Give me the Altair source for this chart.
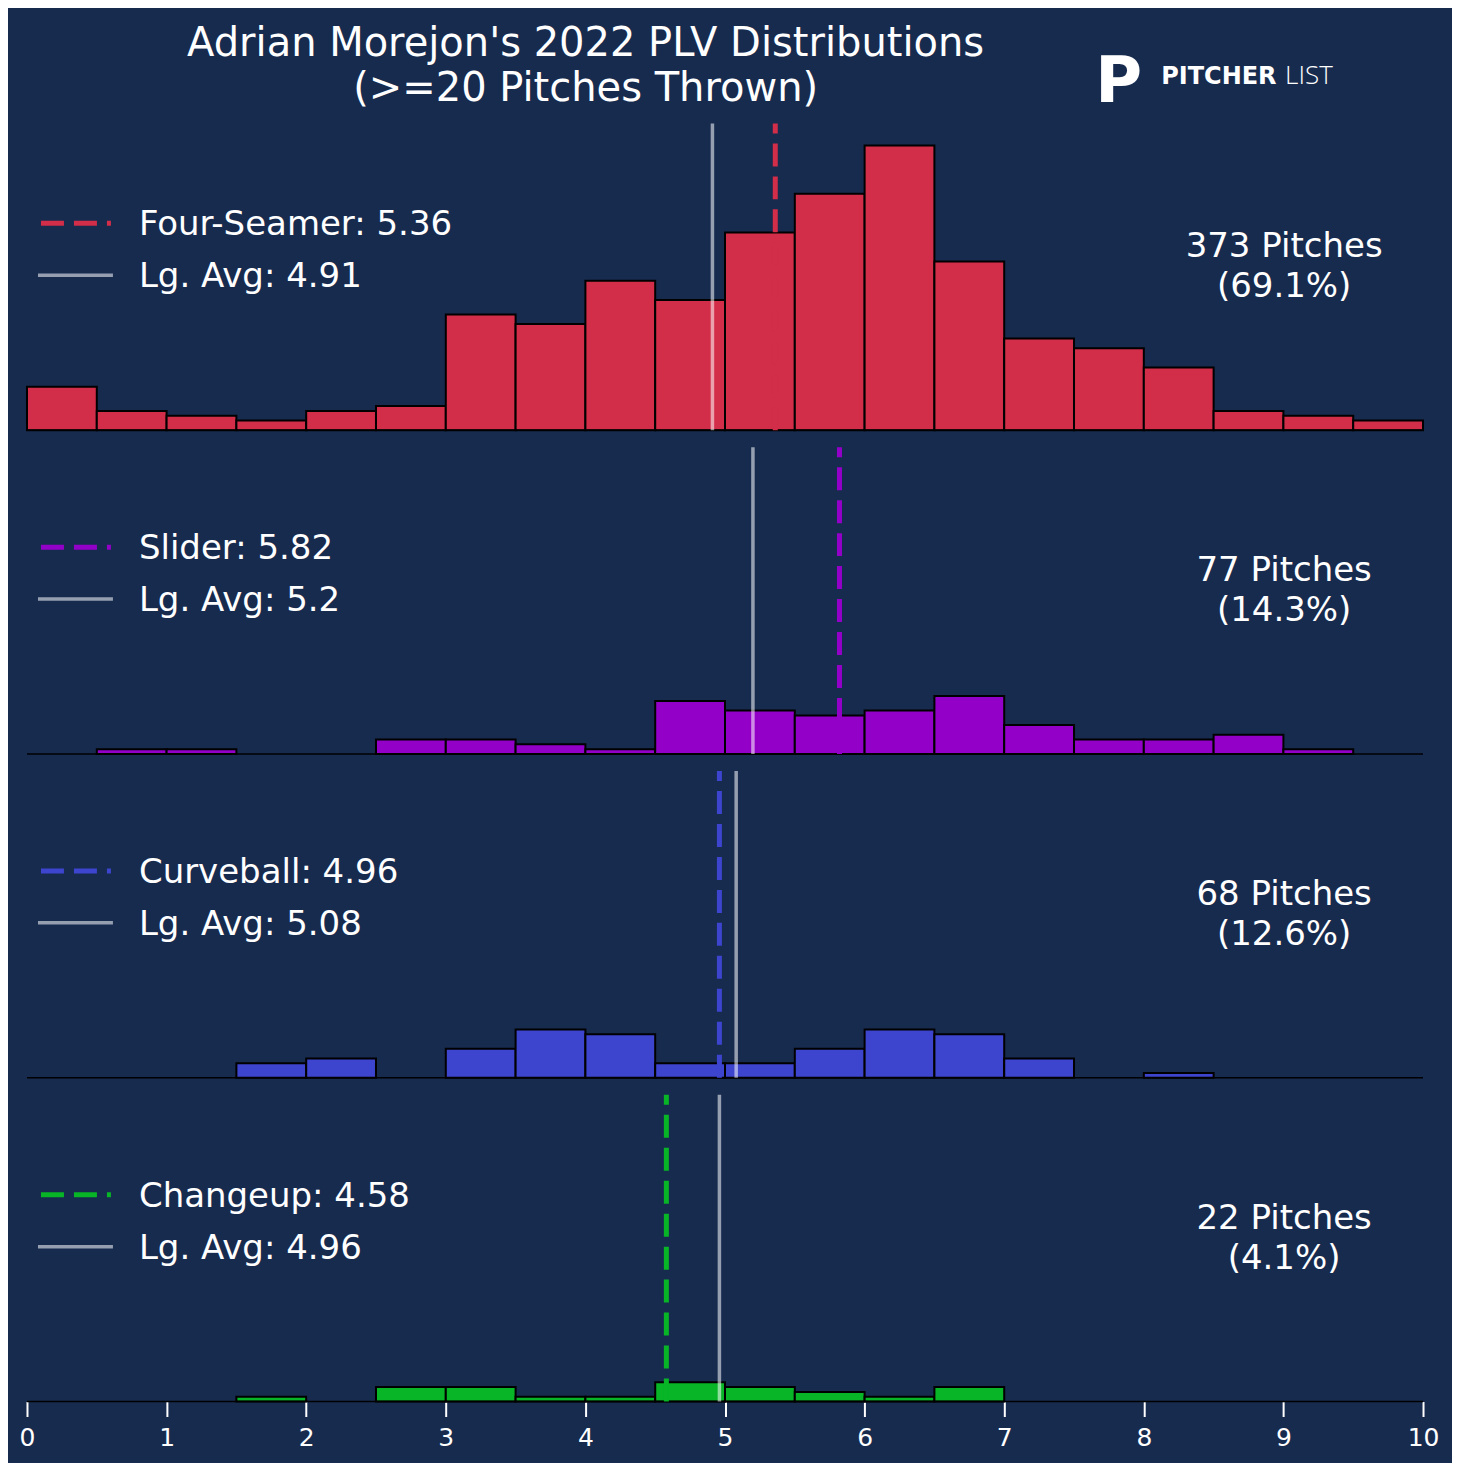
import altair as alt
import pandas as pd

BG = "#172B4F"
FONT = "DejaVu Sans"

# ---- data ----
bin_starts = [i * 0.5 for i in range(20)]
fourseam_counts = [9, 4, 3, 2, 4, 5, 24, 22, 31, 27, 41, 49, 59, 35, 19, 17, 13, 4, 3, 2]
slider_counts = [0, 1, 1, 0, 0, 3, 3, 2, 1, 11, 9, 8, 9, 12, 6, 3, 3, 4, 1, 0]
curve_counts = [0, 0, 0, 3, 4, 0, 6, 10, 9, 3, 3, 6, 10, 9, 4, 0, 1, 0, 0, 0]
change_counts = [0, 0, 0, 1, 0, 3, 3, 1, 1, 4, 3, 2, 1, 3, 0, 0, 0, 0, 0, 0]
all_counts = [fourseam_counts, slider_counts, curve_counts, change_counts]

pitch_names = ["Four-Seamer", "Slider", "Curveball", "Changeup"]
pitch_avgs = [5.36, 5.82, 4.96, 4.58]
lg_avgs = [4.91, 5.2, 5.08, 4.96]
pitch_totals = [373, 77, 68, 22]
pitch_pcts = ["69.1%", "14.3%", "12.6%", "4.1%"]
colors = ["#D22D49", "#9300C7", "#3D44CD", "#07B526"]
tick_values = list(range(11))

title_lines = "Adrian Morejon's 2022 PLV Distributions\n(>=20 Pitches Thrown)"

PW, PH = 1397, 307
one = alt.Data(values=[{}])

DASH_W, LG_W = 5, 3.5
DASH = [23, 10]


def panel(i, bottom=False):
    col = colors[i]
    xscale = alt.Scale(domain=[0, 10], nice=False, zero=False)
    yscale = alt.Scale(domain=[0, 63.6], nice=False, zero=True)
    if bottom:
        xaxis = alt.Axis(values=tick_values, format="d", labelFontSize=25, labelColor="white",
                         labelFont=FONT, tickColor="white", tickSize=15, tickWidth=2,
                         domain=False, grid=False, title=None, labelPadding=9,
                         labelFlush=False, labelOverlap=False)
    else:
        xaxis = None

    df = pd.DataFrame({"start": bin_starts,
                       "end": [b + 0.5 for b in bin_starts],
                       "count": all_counts[i]})
    df = df[df["count"] > 0]

    bars = alt.Chart(df).mark_rect(color=col, stroke="black", strokeWidth=2).encode(
        x=alt.X("start:Q", scale=xscale, axis=xaxis),
        x2="end:Q",
        y=alt.Y("count:Q", scale=yscale, axis=None),
        y2=alt.datum(0),
    )
    base = alt.Chart(one).mark_rule(color="black", strokeWidth=1.5).encode(
        x=alt.X(datum=0, scale=xscale, axis=xaxis), x2=alt.datum(10),
        y=alt.Y(datum=0, scale=yscale, axis=None),
    )
    lg_df = pd.DataFrame({"v": [lg_avgs[i]]})
    lg = alt.Chart(lg_df).mark_rule(color="white", opacity=0.55, strokeWidth=LG_W).encode(
        x=alt.X("v:Q", scale=xscale, axis=xaxis),
        y=alt.Y(datum=0, scale=yscale, axis=None), y2=alt.value(0))
    pa_df = pd.DataFrame({"v": [pitch_avgs[i]]})
    pa = alt.Chart(pa_df).mark_rule(color=col, strokeWidth=DASH_W, strokeDash=DASH).encode(
        x=alt.X("v:Q", scale=xscale, axis=xaxis),
        y=alt.Y(datum=0, scale=yscale, axis=None), y2=alt.value(0))

    # custom legend
    leg_dash = alt.Chart(one).mark_rule(color=col, strokeWidth=DASH_W, strokeDash=DASH).encode(
        x=alt.value(14), x2=alt.value(84), y=alt.value(100))
    leg_lg = alt.Chart(one).mark_rule(color="white", opacity=0.55, strokeWidth=LG_W).encode(
        x=alt.value(11), x2=alt.value(86), y=alt.value(152))
    leg_t1 = alt.Chart(pd.DataFrame({"label": [f"{pitch_names[i]}: {pitch_avgs[i]}"]})).mark_text(
        align="left", baseline="alphabetic", fontSize=34, color="white", font=FONT).encode(
        x=alt.value(112), y=alt.value(112), text="label:N")
    leg_t2 = alt.Chart(pd.DataFrame({"label": [f"Lg. Avg: {lg_avgs[i]}"]})).mark_text(
        align="left", baseline="alphabetic", fontSize=34, color="white", font=FONT).encode(
        x=alt.value(112), y=alt.value(164), text="label:N")

    cnt = alt.Chart(pd.DataFrame({"label": [f"{pitch_totals[i]} Pitches\n({pitch_pcts[i]})"]})).mark_text(
        align="center", baseline="alphabetic", fontSize=34, color="white", font=FONT,
        lineBreak="\n", lineHeight=40).encode(
        x=alt.value(1258), y=alt.value(134), text="label:N")

    layers = [bars, base, lg, pa, leg_dash, leg_lg, leg_t1, leg_t2, cnt]

    if i == 0:
        title = alt.Chart(pd.DataFrame({"t": [title_lines]})).mark_text(
            align="center", baseline="alphabetic", fontSize=40, color="white", font=FONT,
            lineBreak="\n", lineHeight=44.3).encode(
            x=alt.value(559), y=alt.value(-67), text="t:N")
        logo_p = alt.Chart(pd.DataFrame({"t": ["P"]})).mark_text(
            align="left", baseline="alphabetic", fontSize=64, fontWeight="bold", color="white",
            font=FONT).encode(x=alt.value(1069), y=alt.value(-21), text="t:N")
        logo_a = alt.Chart(pd.DataFrame({"t": ["PITCHER"]})).mark_text(
            align="left", baseline="alphabetic", fontSize=24, fontWeight="bold", color="white",
            font=FONT).encode(x=alt.value(1135), y=alt.value(-39), text="t:N")
        logo_b = alt.Chart(pd.DataFrame({"t": ["LIST"]})).mark_text(
            align="left", baseline="alphabetic", fontSize=26, fontWeight=300, color="white",
            font="Open Sans").encode(x=alt.value(1259), y=alt.value(-39), text="t:N")
        layers += [title, logo_p, logo_a, logo_b]

    return alt.layer(*layers).properties(width=PW, height=PH)


chart = alt.vconcat(
    panel(0), panel(1), panel(2), panel(3, bottom=True), spacing=11
).configure(font=FONT).configure_view(stroke=None, strokeWidth=0).properties(
    background=BG,
    padding={"left": 11, "top": 16, "right": 13, "bottom": 12},
)

chart.save("out.html", embed_options={"renderer": "svg", "actions": False})
